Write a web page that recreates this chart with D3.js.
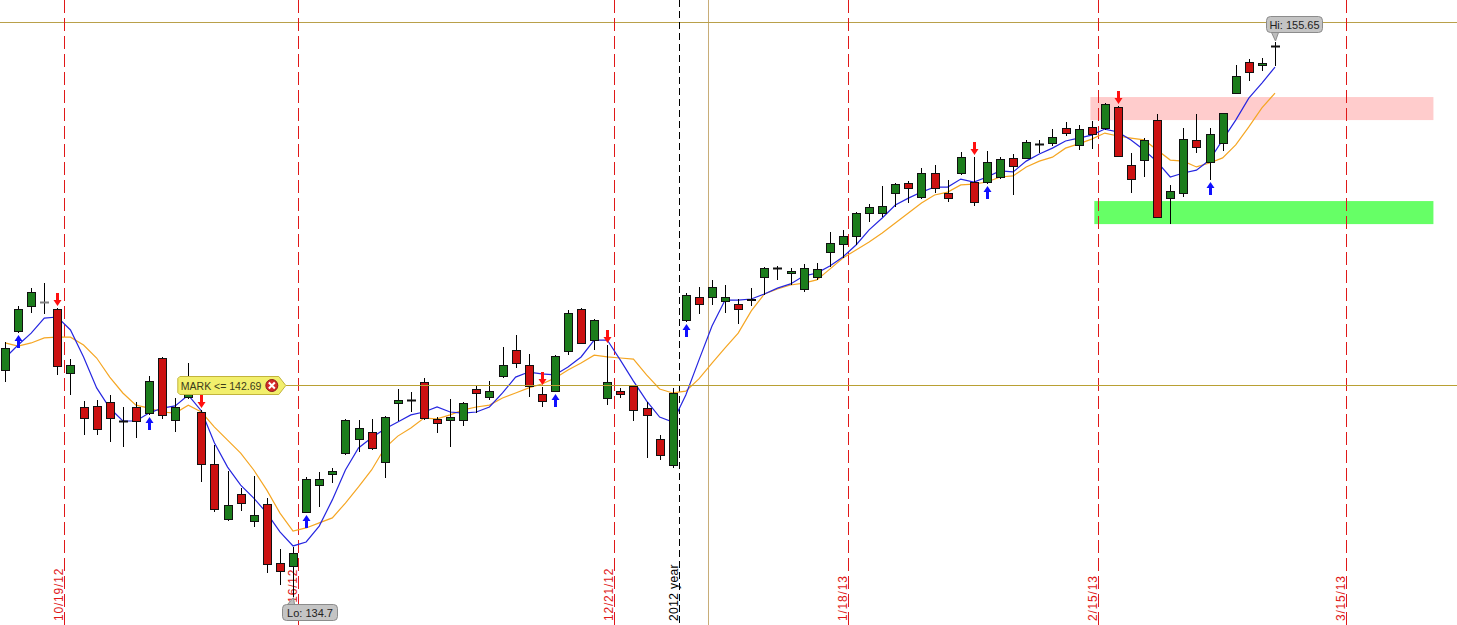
<!DOCTYPE html>
<html>
<head>
<meta charset="utf-8">
<title>Daily candles</title>
<style>
  body { margin: 0; background: #fff; }
  svg { display: block; font-family: Arial, "Liberation Sans", sans-serif; }
</style>
<script src="https://d3js.org/d3.v7.min.js"></script>
</head>
<body>
<svg id="chart" width="1457" height="625"></svg>
<script>
// daily OHLC, 10/15/12 .. 3/8/13 (98 sessions)
var opens = [
  143.26,144.73,145.67,145.83,145.56,143.14,141.86,141.90,142.05,141.33,
  141.86,141.63,143.71,141.37,142.24,141.67,139.71,137.63,138.57,137.55,
  138.19,135.97,135.85,137.89,138.91,139.33,140.12,140.65,140.91,139.78,
  142.01,142.12,142.80,141.41,141.37,141.37,142.54,142.24,143.03,144.01,
  143.45,142.35,142.46,143.98,145.56,144.39,142.20,142.46,142.65,141.82,
  140.65,139.67,145.15,146.02,146.02,145.86,145.75,145.90,146.77,147.11,
  146.92,146.32,146.77,147.71,148.02,148.32,149.19,149.19,149.94,150.32,
  149.79,150.70,149.94,150.70,150.36,150.36,150.55,151.27,151.27,151.80,
  151.83,152.40,151.76,152.44,152.40,153.19,151.00,151.19,152.70,149.75,
  149.94,151.95,151.12,151.83,153.72,154.89,154.78,155.50
];
var highs = [
  144.32,145.67,146.35,146.54,145.60,143.67,142.09,142.12,142.31,141.86,
  142.05,143.03,143.75,142.20,143.52,141.75,140.42,139.44,138.80,139.25,
  138.42,136.49,136.57,139.21,139.40,139.55,141.41,141.37,141.41,141.52,
  142.54,142.43,142.95,141.48,142.16,142.05,142.69,142.84,144.13,144.58,
  143.86,142.61,143.82,145.52,145.60,145.18,144.20,142.58,142.69,142.05,
  140.80,142.58,146.17,146.39,146.66,146.47,145.94,146.35,147.15,147.19,
  147.11,147.26,147.30,148.47,148.55,149.23,149.53,150.21,150.32,150.40,
  150.89,151.00,150.44,151.49,151.30,151.53,151.30,151.42,151.95,151.95,
  152.36,152.63,152.51,152.66,153.34,153.23,151.45,152.02,152.93,150.25,
  152.40,152.93,152.40,152.97,154.78,155.01,155.04,155.65
];
var lows = [
  142.80,144.65,145.41,145.37,143.07,142.31,140.80,140.80,140.54,140.35,
  140.69,141.56,141.41,140.91,142.16,139.03,137.89,137.55,137.93,137.33,
  135.59,135.13,134.70,137.85,138.08,138.99,140.05,140.16,140.23,139.18,
  141.33,141.67,141.37,140.88,140.35,141.14,141.63,142.12,142.95,143.33,
  142.24,141.86,142.43,143.82,144.24,144.01,141.93,142.20,141.33,139.93,
  139.86,139.55,145.07,145.37,145.71,145.41,144.99,145.67,146.09,146.66,
  146.47,146.20,146.66,147.15,147.49,147.98,148.85,149.04,149.42,149.57,
  149.72,149.94,149.60,150.62,149.45,150.28,150.47,149.87,151.27,151.45,
  151.72,152.10,151.57,151.61,152.32,151.30,149.94,150.55,148.99,148.77,
  149.79,151.45,150.44,151.53,153.72,154.17,154.55,154.74
];
var closes = [
  144.09,145.56,146.20,145.83,143.41,143.45,141.44,141.03,141.44,141.33,
  141.33,142.84,141.56,141.86,142.39,139.71,138.01,138.16,138.23,137.78,
  135.93,135.66,136.34,139.14,139.14,139.44,141.37,141.07,140.31,141.48,
  142.12,142.12,141.44,141.25,141.48,142.01,142.39,142.46,143.45,143.52,
  142.65,142.09,143.79,145.41,144.28,145.15,142.80,142.35,141.75,141.56,
  140.05,142.39,146.09,145.75,146.39,146.02,145.56,145.94,147.11,147.11,
  147.00,147.11,147.07,148.05,148.32,149.19,149.42,149.45,150.28,150.13,
  150.70,150.13,149.75,151.30,149.60,151.12,151.23,150.96,151.87,151.80,
  152.06,152.21,152.36,152.17,153.31,151.34,150.47,151.95,149.04,150.02,
  151.98,151.68,152.17,152.97,154.36,154.51,154.85,155.50
];
// moving averages
var fastMA = [
  143.71,144.20,144.65,145.22,145.26,144.77,143.75,142.58,141.82,141.33,
  141.33,141.63,141.82,141.90,142.31,141.71,140.50,139.59,138.91,138.42,
  137.85,137.14,136.61,136.76,137.36,138.35,139.48,140.31,140.70,141.03,
  141.29,141.56,141.67,141.86,141.67,141.63,141.67,141.86,142.39,142.99,
  143.18,143.11,143.07,143.37,143.75,144.39,144.39,143.63,142.84,142.09,
  141.48,141.29,142.31,143.63,144.92,145.90,145.90,145.94,146.13,146.35,
  146.51,146.81,146.92,147.19,147.53,147.98,148.55,149.00,149.49,149.75,
  149.98,150.17,150.17,150.47,150.36,150.55,150.78,150.74,151.15,151.42,
  151.64,151.91,152.02,152.13,152.36,152.25,151.95,151.57,151.12,150.55,
  150.70,150.81,151.19,151.95,152.70,153.53,154.10,154.70
];
var slowMA = [
  144.28,144.16,144.28,144.47,144.50,144.50,144.20,143.71,142.99,142.39,
  141.93,141.82,141.67,141.63,141.93,141.67,141.10,140.61,140.12,139.48,
  138.72,137.85,137.17,137.29,137.48,137.67,138.23,138.84,139.48,140.31,
  140.76,141.07,141.44,141.41,141.56,141.75,141.86,141.93,142.20,142.39,
  142.58,142.73,142.95,143.26,143.52,143.82,143.75,143.71,143.67,143.07,
  142.54,142.39,142.46,142.92,143.52,144.09,144.65,145.49,146.13,146.32,
  146.47,146.54,146.66,147.07,147.49,147.79,148.09,148.43,148.81,149.19,
  149.57,149.87,149.98,150.25,150.28,150.36,150.55,150.59,150.93,151.15,
  151.30,151.64,151.80,151.98,152.21,152.10,152.02,151.95,151.57,151.19,
  151.15,150.93,151.08,151.27,151.76,152.44,153.16,153.72
];
var buySignals = [1, 11, 23, 42, 52, 75, 92];
var sellSignals = [4, 15, 41, 46, 74, 85];

var dateLabels = ['10/19/12', '11/16/12', '12/21/12', '1/18/13', '2/15/13', '3/15/13'];
var dateIndex = [4, 22, 46, 64, 83, 102];
var yearLabel = '2012 year';
var yearIndex = 51.5;

var markPrice = 142.69;
var cursorPrice = 156.40;
var cursorIndex = 53.7;
var loIndex = 22, loPrice = 134.7;
var hiIndex = 97, hiPrice = 155.65;

var zoneStart = [82.9, 83.2];
var zoneEnd = [109.1, 109.1];
var zoneTop = [153.57, 149.64];
var zoneBottom = [152.70, 148.77];
var zoneColor = ['#ffcccc', '#66ff66'];

var svg = d3.select('#chart'),
  W = +svg.attr('width'),
  H = +svg.attr('height');

var x = d3.scaleLinear().domain([0, opens.length - 1]).range([5, 1275]);
var y = d3.scaleLinear().domain([loPrice, hiPrice]).range([596.5, 42]);

// support / resistance zones
svg.append('g').selectAll('rect')
  .data(zoneStart)
  .join('rect')
  .attr('x', (d) => x(d))
  .attr('width', (d, i) => x(zoneEnd[i]) - x(d))
  .attr('y', (d, i) => y(zoneTop[i]))
  .attr('height', (d, i) => y(zoneBottom[i]) - y(zoneTop[i]))
  .attr('fill', (d, i) => zoneColor[i]);

// cursor cross
svg.append('line')
  .attr('x1', Math.round(x(cursorIndex)) + 0.5).attr('x2', Math.round(x(cursorIndex)) + 0.5)
  .attr('y1', 0).attr('y2', H)
  .attr('stroke', '#c8ad78').attr('stroke-width', 1);
svg.append('line')
  .attr('x1', 0).attr('x2', W)
  .attr('y1', Math.round(y(cursorPrice)) + 0.5).attr('y2', Math.round(y(cursorPrice)) + 0.5)
  .attr('stroke', '#b9a04a').attr('stroke-width', 1);

// month marks (snapped to even pixel columns so the thin red stays red)
var marks = svg.append('g');
dateIndex.forEach(function (d, i) {
  var lx = 2 * Math.round(x(d + 0.45) / 2) + 0.5;
  marks.append('line')
    .attr('x1', lx).attr('x2', lx).attr('y1', 0).attr('y2', H)
    .attr('stroke', '#e01818').attr('stroke-dasharray', '13,5');
  marks.append('text')
    .attr('transform', `translate(${lx - 2},621) rotate(-90)`)
    .attr('fill', '#e01818').attr('font-size', 12)
    .attr('letter-spacing', 0.8)
    .text(dateLabels[i]);
});
var yx = Math.round(x(yearIndex)) + 0.5;
marks.append('line')
  .attr('x1', yx).attr('x2', yx).attr('y1', 0).attr('y2', H)
  .attr('stroke', '#000').attr('stroke-dasharray', '7,4');
marks.append('text')
  .attr('transform', `translate(${yx - 2},621) rotate(-90)`)
  .attr('fill', '#000').attr('font-size', 12)
  .attr('letter-spacing', 0.4)
  .text(yearLabel);

// moving averages
var line = (arr) => d3.line().x((d, i) => x(i)).y((d) => y(d))(arr);
svg.append('path').attr('d', line(slowMA))
  .attr('fill', 'none').attr('stroke', '#f5a623').attr('stroke-width', 1.2);
svg.append('path').attr('d', line(fastMA))
  .attr('fill', 'none').attr('stroke', '#2626e0').attr('stroke-width', 1.2);

// candles
var candles = d3.range(opens.length).map((i) => ({
  i: i, o: opens[i], h: highs[i], l: lows[i], c: closes[i]
}));
var cg = svg.append('g').selectAll('g')
  .data(candles)
  .join('g')
  .attr('transform', (d) => `translate(${Math.round(x(d.i))},0)`);

cg.append('line')
  .attr('x1', 0.5).attr('x2', 0.5)
  .attr('y1', (d) => Math.round(y(d.h)))
  .attr('y2', (d) => Math.round(y(d.l)))
  .attr('stroke', '#000');

cg.filter((d) => Math.abs(d.o - d.c) >= 0.02)
  .append('rect')
  .attr('x', -3.5)
  .attr('width', 8)
  .attr('y', (d) => Math.round(y(Math.max(d.o, d.c))) + 0.5)
  .attr('height', (d) => Math.max(1, Math.round(Math.abs(y(d.o) - y(d.c)))))
  .attr('fill', (d) => (d.c > d.o ? '#1c7d1c' : '#cc1111'))
  .attr('stroke', '#111');

cg.filter((d) => Math.abs(d.o - d.c) < 0.02)
  .append('line')
  .attr('x1', -4).attr('x2', 5)
  .attr('y1', (d) => Math.round(y(d.o)) + 0.5)
  .attr('y2', (d) => Math.round(y(d.o)) + 0.5)
  .attr('stroke', (d) => (d.i === 3 ? '#808080' : '#111')).attr('stroke-width', 2);

// signal arrows
function arrow(cx, tip, dir) {
  var s = dir; // 1 = points up, -1 = points down
  return `M${cx},${tip} L${cx + 4},${tip + 6 * s} L${cx + 1.5},${tip + 6 * s} L${cx + 1.5},${tip + 13 * s}` +
    ` L${cx - 1.5},${tip + 13 * s} L${cx - 1.5},${tip + 6 * s} L${cx - 4},${tip + 6 * s} Z`;
}
svg.append('g').selectAll('path')
  .data(buySignals)
  .join('path')
  .attr('d', (i) => arrow(Math.round(x(i)) + 0.5, Math.round(y(lows[i])) + 2, 1))
  .attr('fill', '#1010ff');
svg.append('g').selectAll('path')
  .data(sellSignals)
  .join('path')
  .attr('d', (i) => arrow(Math.round(x(i)) + 0.5, Math.round(y(highs[i])) - 2, -1))
  .attr('fill', '#ff1010');

// MARK tag and level line
var my = Math.round(y(markPrice)) + 0.5;
var ml = x(13.2), mw = 108;
svg.append('line')
  .attr('x1', ml + mw).attr('x2', W).attr('y1', my).attr('y2', my)
  .attr('stroke', '#b9a033');
svg.append('path')
  .attr('d', `M${ml + 2},${my - 9} L${ml + mw - 7},${my - 9} L${ml + mw},${my} L${ml + mw - 7},${my + 9} L${ml + 2},${my + 9} L${ml},${my + 7} L${ml},${my - 7} Z`)
  .attr('fill', '#f2ef6c').attr('stroke', '#c2b43c');
svg.append('text')
  .attr('x', ml + 3).attr('y', my + 4)
  .attr('font-size', 10.5).attr('fill', '#3a3a1a')
  .text('MARK <= ' + markPrice);
svg.append('circle')
  .attr('cx', ml + mw - 14).attr('cy', my).attr('r', 6)
  .attr('fill', '#d42a2a').attr('stroke', '#8a1a1a');
svg.append('path')
  .attr('d', `M${ml + mw - 17},${my - 3} L${ml + mw - 11},${my + 3} M${ml + mw - 11},${my - 3} L${ml + mw - 17},${my + 3}`)
  .attr('stroke', '#fff').attr('stroke-width', 2);

// Lo / Hi bubbles
function bubble(px, py, bx, by, bw, label, up) {
  var g = svg.append('g');
  var base = up ? by : by + 16;
  g.append('path')
    .attr('d', `M${px},${py} L${bx + 12},${base} L${bx + 5},${base} Z`)
    .attr('fill', '#bdbdbd').attr('stroke', '#8c8c8c');
  g.append('rect')
    .attr('x', bx).attr('y', by).attr('width', bw).attr('height', 16).attr('rx', 4)
    .attr('fill', '#c4c4c4').attr('stroke', '#8c8c8c');
  g.append('text')
    .attr('x', bx + bw / 2).attr('y', by + 12)
    .attr('text-anchor', 'middle').attr('font-size', 11).attr('fill', '#222')
    .text(label);
}
bubble(x(loIndex) + 0.5, y(loPrice) + 1, Math.round(x(loIndex)) - 10.5, 604.5, 55, 'Lo: ' + loPrice, true);
bubble(x(hiIndex) + 0.5, y(hiPrice) - 1, Math.round(x(hiIndex)) - 8.5, 16.5, 56, 'Hi: ' + hiPrice, false);
</script>
</body>
</html>
